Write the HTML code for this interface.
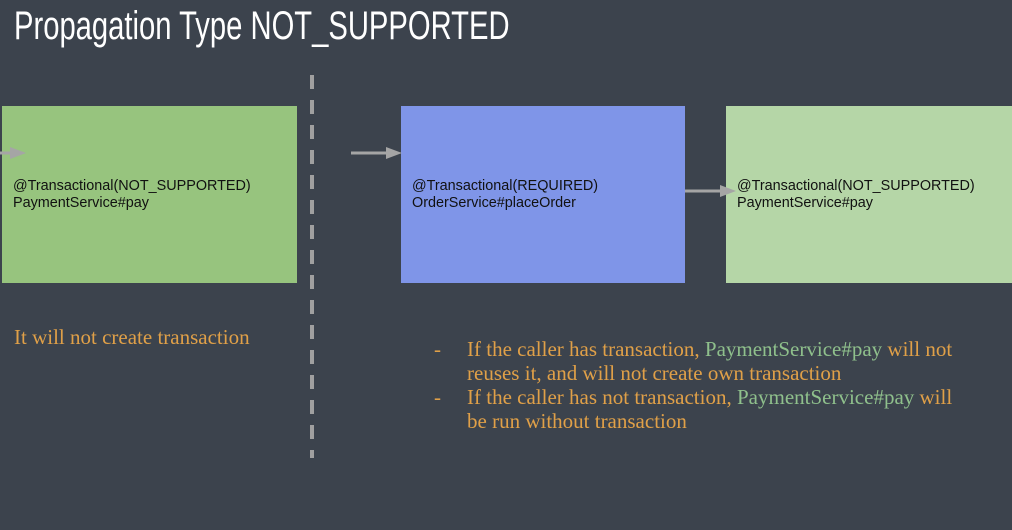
<!DOCTYPE html>
<html><head><meta charset="utf-8"><style>
html,body{margin:0;padding:0}
body{width:1012px;height:530px;background:#3c434d;position:relative;overflow:hidden;font-family:"Liberation Sans",sans-serif}
.t{position:absolute;left:14px;top:4px;font-size:40px;color:#fff;transform:scaleX(0.73);transform-origin:0 0;white-space:nowrap}
.box{position:absolute;font-size:14.4px;color:#111;line-height:17px}
.box div{position:absolute;left:11px;white-space:nowrap}
.s{position:absolute;font-family:"Liberation Serif",serif;font-size:21px;color:#e0a048;line-height:24px;white-space:nowrap}
.g{color:#8fc08c}
</style></head><body>
<div class="t">Propagation Type NOT_SUPPORTED</div>
<div class="box" style="left:2px;top:106px;width:295px;height:177px;background:#97c47e"><div style="top:72px">@Transactional(NOT_SUPPORTED)<br>PaymentService#pay</div></div>
<div class="box" style="left:401px;top:106px;width:284px;height:177px;background:#7f95e8"><div style="top:72px">@Transactional(REQUIRED)<br>OrderService#placeOrder</div></div>
<div class="box" style="left:726px;top:106px;width:286px;height:177px;background:#b5d6a7"><div style="top:72px">@Transactional(NOT_SUPPORTED)<br>PaymentService#pay</div></div>
<svg width="1012" height="530" style="position:absolute;left:0;top:0">
<line x1="312" y1="75" x2="312" y2="458" stroke="#a0a0a0" stroke-width="4" stroke-dasharray="14,11"/>
<g stroke="#a5a5a5" stroke-width="3" fill="#a5a5a5">
<line x1="0" y1="153" x2="14" y2="153"/><polygon points="10,147 26,153 10,159" stroke="none"/>
<line x1="351" y1="153" x2="388" y2="153"/><polygon points="386,147 402,153 386,159" stroke="none"/>
<line x1="685" y1="191" x2="722" y2="191"/><polygon points="720,185 736,191 720,197" stroke="none"/>
</g>
</svg>
<div class="s" style="left:14px;top:325px">It will not create transaction</div>
<div class="s" style="left:434px;top:337px">-</div>
<div class="s" style="left:434px;top:385px">-</div>
<div class="s" style="left:467px;top:337px">If the caller has transaction, <span class="g">PaymentService#pay</span> will not<br>reuses it, and will not create own transaction<br>If the caller has not transaction, <span class="g">PaymentService#pay</span> will<br>be run without transaction</div>
</body></html>
